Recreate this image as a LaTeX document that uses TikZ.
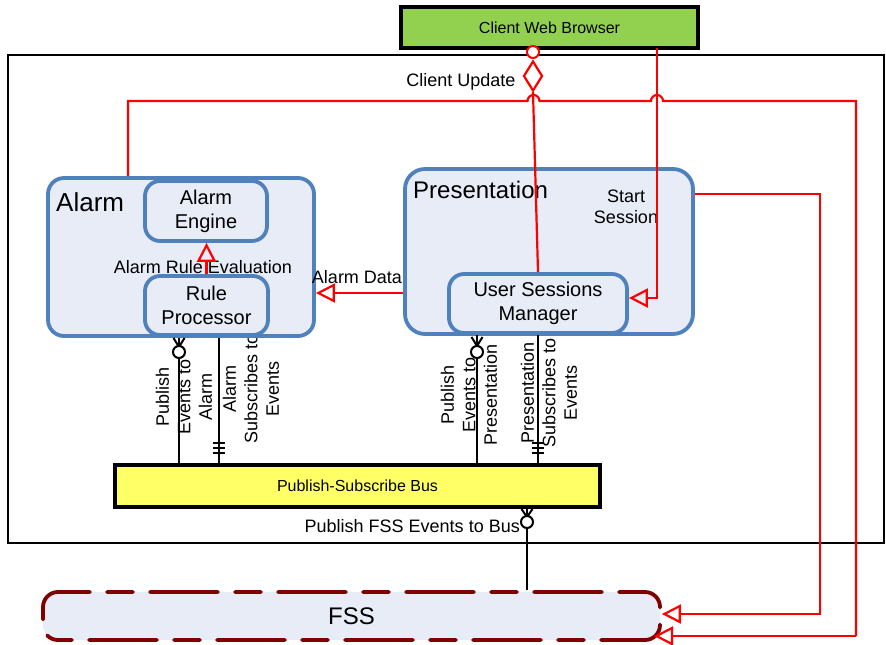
\documentclass[tikz,border=0pt]{standalone}
\usepackage{fontspec}
\setmainfont{Liberation Sans}
\usetikzlibrary{arrows.meta,shapes.geometric}
\definecolor{boxblue}{RGB}{79,129,189}
\definecolor{boxfill}{RGB}{231,236,246}
\definecolor{browsergreen}{RGB}{146,208,80}
\definecolor{busyellow}{RGB}{255,255,102}
\definecolor{fssred}{RGB}{128,0,0}
\begin{document}
\begin{tikzpicture}[x=1pt,y=-1pt,
  comp/.style={draw=boxblue,line width=3.8pt,fill=boxfill,inner sep=0pt},
  sub/.style={draw=boxblue,line width=3.8pt,fill=boxfill,rounded corners=15pt,inner sep=0pt,align=center,font=\fontsize{20}{24}\selectfont},
  bar/.style={draw=black,line width=4pt,inner sep=0pt,font=\fontsize{16}{19}\selectfont},
  lbl/.style={inner sep=0pt,align=center,font=\fontsize{18}{21.5}\selectfont},
  rlbl/.style={lbl,rotate=90},
  conn/.style={draw=black,line width=2pt},
  rline/.style={draw=red,line width=2.2pt},
  rarr/.style={rline,-{Triangle[open,length=19pt,width=19pt]}},
  ring/.style={circle,draw,line width=2pt,fill=white,minimum size=12pt,inner sep=0pt},
]
\useasboundingbox (0,0) rectangle (886,645);
% outer frame
\draw[line width=1.6pt] (8,55) rectangle (884,543);

% rotated labels (drawn under boxes)
\node[rlbl] (l1) at (184,397) {Publish\\Events to\\Alarm};
\node[rlbl] (l2) at (251,389) {Alarm\\Subscribes to\\Events};
\node[rlbl] (l3) at (469,395) {Publish\\Events to\\Presentation};
\node[rlbl] (l4) at (549,393) {Presentation\\Subscribes to\\Events};

% boxes
\node[comp,rounded corners=16pt,minimum width=266,minimum height=158] (alarm) at (181,257) {};
\node[comp,rounded corners=20pt,minimum width=288,minimum height=165] (pres) at (549,251.5) {};
\node[sub,minimum width=122,minimum height=60] (ae) at (206,211) {Alarm\\Engine};
\node[sub,minimum width=123,minimum height=59] (rp) at (206.5,305.5) {Rule\\Processor};
\node[sub,minimum width=178,minimum height=59] (usm) at (538,303.5) {User Sessions\\Manager};
\node[anchor=west,inner sep=0pt,font=\fontsize{26}{30}\selectfont] (alarmt) at (56,202) {Alarm};
\node[anchor=west,inner sep=0pt,font=\fontsize{24}{28}\selectfont] (prest) at (413,190) {Presentation};
\node[lbl] (ss) at (626,207) {Start\\Session};

\node[bar,fill=browsergreen,minimum width=297,minimum height=41] (browser) at (549.5,27.5) {Client Web Browser};
\node[bar,fill=busyellow,minimum width=485,minimum height=42] (bus) at (357.5,486) {Publish-Subscribe Bus};
\node[draw=fssred,line width=3.8pt,dash pattern=on 26pt off 17pt on 68pt off 17pt,line cap=round,
      fill=boxfill,rounded corners=15pt,inner sep=0pt,minimum width=617,minimum height=48,
      font=\fontsize{24}{28}\selectfont] (fss) at (351.5,616) {FSS};

% labels
\node[lbl] (are) at (203,267) {Alarm Rule Evaluation};
\node[lbl] (ad) at (357,277) {Alarm Data};
\node[lbl] (cu) at (461,82) {Client Update};
\node[lbl,anchor=east] (pfe) at (520,526) {Publish FSS Events to Bus};

% red connectors
\draw[rarr] (rp.north) -- (rp.north |- ae.south);
\draw[rarr] (pres.west |- 0,293) -- (alarm.east |- 0,293);
\node[ring,draw=red] (cuc) at (533,52) {};
\node[diamond,draw=red,line width=2.2pt,fill=white,minimum width=19pt,minimum height=30pt,inner sep=0pt] (cud) at (533,76) {};
\draw[rline] (cud.south) -- (usm.north);
\coordinate (bb) at (657,48);
\draw[rarr] (bb) -- (657,298) -- (usm.east |- 0,298);
\coordinate (at) at (128,101);
\draw[rline] (alarm.north -| 128,0) -- (at) -- (527.5,101) arc[start angle=180,end angle=0,radius=6pt]
  -- (651,101) arc[start angle=180,end angle=0,radius=6pt] -- (856,101) -- (856,636);
\draw[rarr] (856,636) -- (654,636);
\draw[rarr] (pres.east |- 0,194) -- (820,194) -- (820,614) -- (fss.east |- 0,614);

% black connectors
\draw[conn] (alarm.south -| 179,0) -- (bus.north -| 179,0);
\draw[conn] (173.5,338) -- (179,347) -- (184.5,338);
\node[ring] (r1) at (179,352) {};
\draw[conn] (alarm.south -| 219,0) -- (bus.north -| 219,0);
\foreach \y in {443,448,453} \draw[line width=1.6pt] (213,\y) -- (225,\y);

\draw[conn] (usm.south -| 477,0) -- (bus.north -| 477,0);
\draw[conn] (471.5,337) -- (477,346) -- (482.5,337);
\node[ring] (r2) at (477,352) {};
\draw[conn] (usm.south -| 538,0) -- (bus.north -| 538,0);
\foreach \y in {443,448,453} \draw[line width=1.6pt] (532,\y) -- (544,\y);

\draw[conn] (bus.south -| 527,0) -- (fss.north -| 527,0);
\draw[conn] (521.5,509) -- (527,517) -- (532.5,509);
\node[ring] (r3) at (527,522) {};
\end{tikzpicture}
\end{document}
